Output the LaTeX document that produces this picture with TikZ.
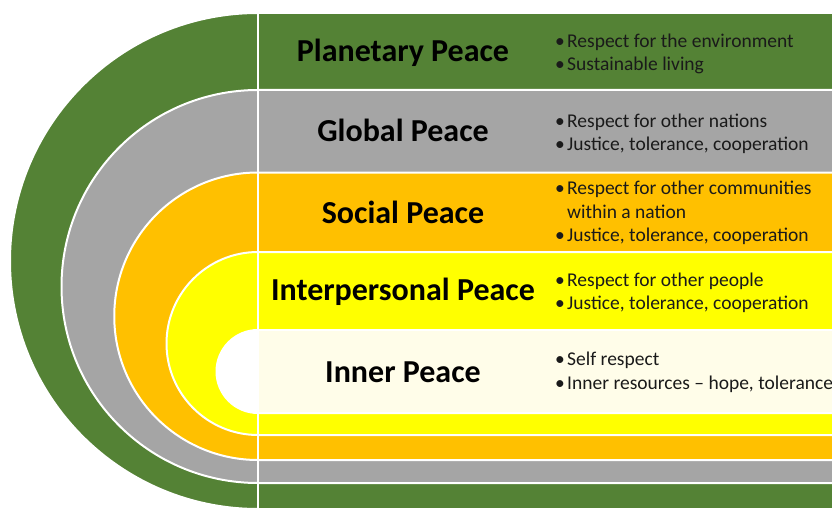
\documentclass[tikz,border=0pt]{standalone}
\usepackage{fontspec}
\setmainfont{Carlito}
\definecolor{pgreen}{HTML}{548235}
\definecolor{pgray}{HTML}{A5A5A5}
\definecolor{porange}{HTML}{FFC000}
\definecolor{pyellow}{HTML}{FFFF00}
\definecolor{pcream}{HTML}{FFFDE9}
\definecolor{ptext}{HTML}{1A1A1A}
\tikzset{
  band/.style={draw=white, line width=2pt},
  title/.style={font=\fontsize{32}{37}\selectfont\bfseries, text=black, inner sep=0pt, anchor=center},
  blist/.style={font=\fontsize{19.5}{23.5}\selectfont, text=ptext, inner sep=0pt, anchor=west, align=left},
}
\newcommand{\bul}{\makebox[12pt][l]{\textbullet}}
\newcommand{\nob}{\makebox[12pt][l]{}}
\begin{document}
\begin{tikzpicture}[x=1pt,y=1pt]
\useasboundingbox (0,0) rectangle (832,507);
\fill[white] (0,0) rectangle (832,507);
\begin{scope}
\clip (0,0) rectangle (832,507);
% outer to inner bands
\filldraw[band, fill=pgreen] (845,494) -- (258,494) arc[start angle=90, end angle=270, radius=248pt] -- (845,-2) -- cycle;
\filldraw[band, fill=pgray] (845,417) -- (258,417) arc[start angle=90, end angle=270, radius=196.5pt] -- (845,24) -- cycle;
\filldraw[band, fill=porange] (845,334.5) -- (258,334.5) arc[start angle=90, end angle=270, radius=143.75pt] -- (845,47) -- cycle;
\filldraw[band, fill=pyellow] (845,255) -- (258,255) arc[start angle=90, end angle=270, radius=91.5pt] -- (845,72) -- cycle;
\filldraw[band, fill=white] (845,177) -- (258,177) arc[start angle=90, end angle=270, radius=41.5pt] -- (845,94) -- cycle;
\fill[pcream] (258,95) rectangle (845,176);
% vertical divider
\draw[white, line width=2pt] (258,494) -- (258,-5);
\end{scope}
% titles
\node[title] (tplan) at (403,454) {Planetary Peace};
\node[title] (tglob) at (403,377) {Global Peace};
\node[title] (tsoc) at (403,295) {Social Peace};
\node[title] (tint) at (403,215) {Interpersonal Peace};
\node[title] (tinn) at (403,135) {Inner Peace};
% bullets
\node[blist] (bplan) at (555,453) {\bul Respect for the environment\\\bul Sustainable living};
\node[blist] (bglob) at (555,373) {\bul Respect for other nations\\\bul Justice, tolerance, cooperation};
\node[blist] (bsoc) at (555,294) {\bul Respect for other communities\\\nob within a nation\\\bul Justice, tolerance, cooperation};
\node[blist] (bint) at (555,214) {\bul Respect for other people\\\bul Justice, tolerance, cooperation};
\node[blist] (binn) at (555,134.5) {\bul Self respect\\\bul Inner resources – hope, tolerance};
\end{tikzpicture}
\end{document}
